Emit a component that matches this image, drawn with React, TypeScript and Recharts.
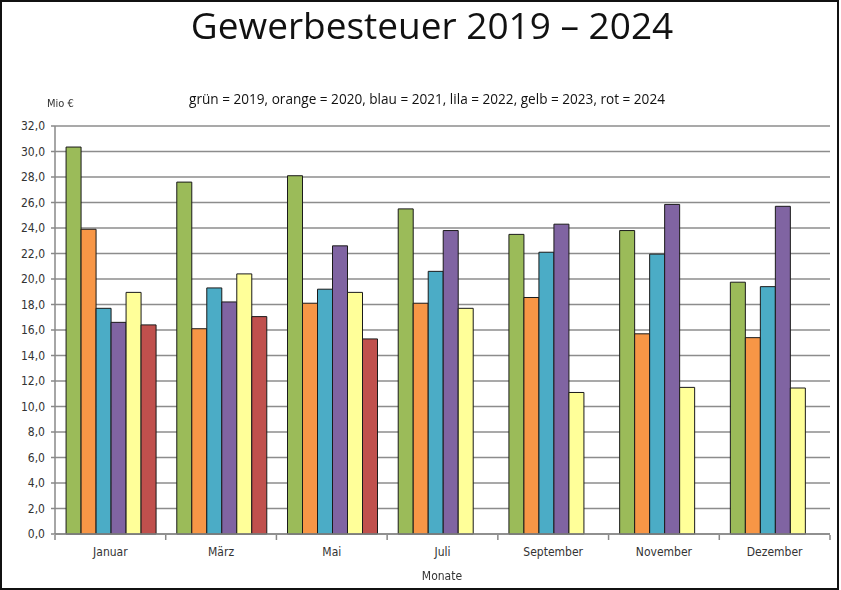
import { BarChart, Bar, XAxis, YAxis, CartesianGrid } from "recharts";

const months = ["Januar", "März", "Mai", "Juli", "September", "November", "Dezember"];

const y2019 = [30.35, 27.6, 28.1, 25.5, 23.5, 23.8, 19.75];
const y2020 = [23.9, 16.1, 18.1, 18.1, 18.55, 15.7, 15.4];
const y2021 = [17.7, 19.3, 19.2, 20.6, 22.1, 21.95, 19.4];
const y2022 = [16.6, 18.2, 22.6, 23.8, 24.3, 25.85, 25.7];
const y2023 = [18.95, 20.4, 18.95, 17.7, 11.1, 11.5, 11.45];
const y2024 = [16.4, 17.05, 15.3, null, null, null, null];

const yTicks = [0, 2, 4, 6, 8, 10, 12, 14, 16, 18, 20, 22, 24, 26, 28, 30, 32];

const series = [
  { key: "y2019", color: "#9bbb59" },
  { key: "y2020", color: "#f79646" },
  { key: "y2021", color: "#4bacc6" },
  { key: "y2022", color: "#8064a2" },
  { key: "y2023", color: "#ffff99" },
  { key: "y2024", color: "#c0504d" },
];

const data = months.map((m, i) => ({
  month: m,
  y2019: y2019[i],
  y2020: y2020[i],
  y2021: y2021[i],
  y2022: y2022[i],
  y2023: y2023[i],
  y2024: y2024[i],
}));

const W = 841;
const H = 590;
const LEFT = 55;
const RIGHT = 11;
const BAND = (W - LEFT - RIGHT) / months.length;
const FONT = "'DejaVu Sans Condensed', 'Liberation Sans Narrow', 'Open Sans', sans-serif";

// tick marks sit between the months, like the original
const XTick = (props: any) => {
  const { x, y, payload, index } = props;
  const base = y - 7;
  const left = x - BAND / 2;
  return (
    <g>
      <line x1={left} x2={left} y1={base} y2={base + 5} stroke="#888" strokeWidth={1.5} />
      {index === months.length - 1 && (
        <line x1={x + BAND / 2} x2={x + BAND / 2} y1={base} y2={base + 5} stroke="#888" strokeWidth={1.5} />
      )}
      <text x={x} y={base + 17} textAnchor="middle" dominantBaseline="central" fontSize={12} fill="#333" fontFamily={FONT}>
        {payload.value}
      </text>
    </g>
  );
};

export default function App() {
  return (
    <div
      style={{
        position: "fixed",
        left: 0,
        top: 0,
        width: W,
        height: H,
        background: "#fff",
      }}
    >
      <BarChart
        width={W}
        height={H}
        data={data}
        margin={{ top: 126, right: RIGHT, bottom: 26, left: 0 }}
        barCategoryGap="10%"
        barGap={0}
      >
        <CartesianGrid vertical={false} stroke="#8c8c8c" strokeWidth={1.5} />
        <XAxis
          dataKey="month"
          height={30}
          stroke="#888"
          strokeWidth={1.5}
          tickLine={false}
          tick={<XTick />}
          interval={0}
        />
        <YAxis
          width={LEFT}
          domain={[0, 32]}
          ticks={yTicks}
          interval={0}
          stroke="#888"
          strokeWidth={1.5}
          tickSize={4}
          tickMargin={6}
          tickFormatter={(v: number) => v.toFixed(1).replace(".", ",")}
          tick={{ fontSize: 12, fill: "#333", fontFamily: FONT }}
        />
        {series.map((s) => (
          <Bar
            key={s.key}
            dataKey={s.key}
            fill={s.color}
            stroke="#1a1a1a"
            strokeWidth={1}
            isAnimationActive={false}
          />
        ))}
      </BarChart>
      <div
        style={{
          position: "absolute",
          left: 0,
          top: 3,
          width: 864,
          textAlign: "center",
          fontFamily: "'Open Sans', sans-serif",
          fontSize: 37,
          lineHeight: "44px",
          color: "#111",
        }}
      >
        Gewerbesteuer 2019 – 2024
      </div>
      <div
        style={{
          position: "absolute",
          left: 0,
          top: 89,
          width: 854,
          textAlign: "center",
          fontFamily: "'Open Sans', sans-serif",
          fontSize: 13.6,
          color: "#111",
        }}
      >
        grün = 2019, orange = 2020, blau = 2021, lila = 2022, gelb = 2023, rot = 2024
      </div>
      <div
        style={{
          position: "absolute",
          left: 47,
          top: 97,
          fontFamily: FONT,
          fontSize: 11,
          color: "#333",
        }}
      >
        Mio €
      </div>
      <div
        style={{
          position: "absolute",
          left: 0,
          top: 569,
          width: 884,
          textAlign: "center",
          fontFamily: FONT,
          fontSize: 12,
          color: "#333",
        }}
      >
        Monate
      </div>
      <div
        style={{
          position: "absolute",
          left: 0,
          top: 0,
          width: W - 2,
          height: H,
          border: "2px solid #111",
          boxSizing: "border-box",
          pointerEvents: "none",
        }}
      />
    </div>
  );
}
